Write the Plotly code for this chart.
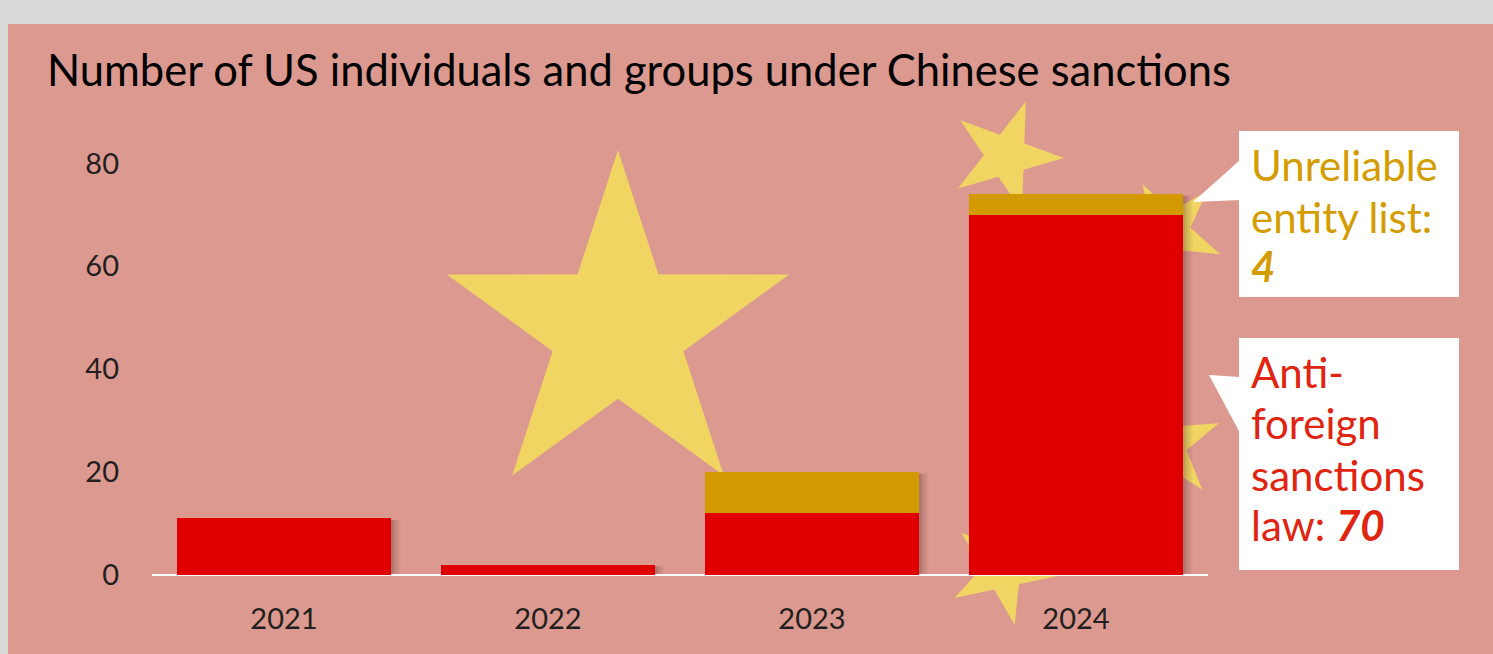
import plotly.graph_objects as go
import math

# ---- data ----
years = ["2021", "2022", "2023", "2024"]
anti_foreign = [11, 2, 12, 70]
unreliable = [0, 0, 8, 4]
y_ticks = [0, 20, 40, 60, 80]

title_text = "Number of US individuals and groups under Chinese sanctions"
unreliable_lines = ["Unreliable", "entity list:", "<b><i>4</i></b>"]
anti_lines = ["Anti-", "foreign", "sanctions", "law: <b><i>70</i></b>"]

# ---- geometry helpers (pixel -> paper) ----
W, H = 1493, 654
ML, MR, MT, MB = 152, 285, 112, 79
PW, PH = W - ML - MR, H - MT - MB


def xp(px):
    return (px - ML) / PW


def yp(py):
    return (H - MB - py) / PH


def star_path(cx, cy, R, tip_deg):
    r = R * 0.382
    pts = []
    for k in range(10):
        ang = math.radians(tip_deg + k * 36)
        rad = R if k % 2 == 0 else r
        pts.append((xp(cx + rad * math.cos(ang)), yp(cy - rad * math.sin(ang))))
    return "M " + " L ".join(f"{a:.5f},{b:.5f}" for a, b in pts) + " Z"


PINK = "#dc998f"
RED = "#e10000"
GOLD = "#d39900"
STAR = "#f0d563"

fig = go.Figure()
fig.add_trace(go.Bar(x=years, y=anti_foreign, marker=dict(color=RED, line=dict(width=0)),
                     name="Anti-foreign sanctions law"))
fig.add_trace(go.Bar(x=years, y=unreliable, marker=dict(color=GOLD, line=dict(width=0)),
                     name="Unreliable entity list"))

shapes = []
# pink panel
shapes.append(dict(type="rect", xref="paper", yref="paper", x0=xp(8), x1=xp(W + 5),
                   y0=yp(24), y1=yp(H + 5), fillcolor=PINK, line=dict(width=0), layer="below"))
# stars
for (cx, cy, R, a) in [(618, 330, 180, 90), (1006, 156, 58, -2), (1170, 232, 55, 192),
                       (1165, 445, 58, 166), (1003, 570, 56, 138)]:
    shapes.append(dict(type="path", xref="paper", yref="paper", path=star_path(cx, cy, R, a),
                       fillcolor=STAR, line=dict(width=0), layer="below"))
# bar shadows
bargap = 0.193
half = (1 - bargap) / 2
step = 2.5 / (PW / 4)
for i, (a, b) in enumerate(zip(anti_foreign, unreliable)):
    tot = a + b
    for k, op in enumerate([0.32, 0.22, 0.13, 0.06]):
        shapes.append(dict(type="rect", xref="x", yref="y",
                           x0=i + half + k * step, x1=i + half + (k + 1) * step,
                           y0=0, y1=tot - 0.3, fillcolor=f"rgba(70,40,40,{op})",
                           line=dict(width=0), layer="below"))
# callout boxes
shapes.append(dict(type="rect", xref="paper", yref="paper", x0=xp(1239), x1=xp(1459),
                   y0=yp(297), y1=yp(131), fillcolor="white", line=dict(width=0), layer="above"))
shapes.append(dict(type="path", xref="paper", yref="paper",
                   path=f"M {xp(1240)},{yp(160)} L {xp(1193)},{yp(202)} L {xp(1240)},{yp(200)} Z",
                   fillcolor="white", line=dict(width=0), layer="above"))
shapes.append(dict(type="rect", xref="paper", yref="paper", x0=xp(1239), x1=xp(1459),
                   y0=yp(570), y1=yp(338), fillcolor="white", line=dict(width=0), layer="above"))
shapes.append(dict(type="path", xref="paper", yref="paper",
                   path=f"M {xp(1240)},{yp(377)} L {xp(1209)},{yp(375)} L {xp(1240)},{yp(433)} Z",
                   fillcolor="white", line=dict(width=0), layer="above"))

annotations = [
    dict(text=title_text, xref="paper", yref="paper", x=xp(45), y=yp(69),
         xanchor="left", yanchor="middle", showarrow=False,
         font=dict(family="Lato", size=43.5, color="#000000")),
]
CS = 42
for line, base in zip(unreliable_lines, [180, 232, 281]):
    annotations.append(dict(text=line, xref="paper", yref="paper", x=xp(1249), y=yp(base - 15),
                            xanchor="left", yanchor="middle", align="left", showarrow=False,
                            font=dict(family="Lato", size=CS, color="#d49c00")))
for line, base in zip(anti_lines, [387, 438, 490, 540]):
    annotations.append(dict(text=line, xref="paper", yref="paper", x=xp(1249), y=yp(base - 15),
                            xanchor="left", yanchor="middle", align="left", showarrow=False,
                            font=dict(family="Lato", size=CS, color="#e0240f")))

fig.update_layout(
    width=W, height=H,
    margin=dict(l=ML, r=MR, t=MT, b=MB, autoexpand=False),
    paper_bgcolor="#d9d9d9", plot_bgcolor="rgba(0,0,0,0)",
    barmode="stack", bargap=bargap, showlegend=False,
    shapes=shapes, annotations=annotations,
    font=dict(family="Lato", color="#231f20"),
)
fig.update_yaxes(range=[0, 90], tickvals=y_ticks, showgrid=False, zeroline=True,
                 zerolinecolor="white", zerolinewidth=2, showline=False,
                 tickfont=dict(size=29, color="#231f20"), ticklabelstandoff=32, fixedrange=True)
fig.update_xaxes(showgrid=False, showline=False, tickfont=dict(size=29, color="#231f20"),
                 ticklabelstandoff=24, fixedrange=True)

fig.write_html("out.html", config={"displayModeBar": False})
